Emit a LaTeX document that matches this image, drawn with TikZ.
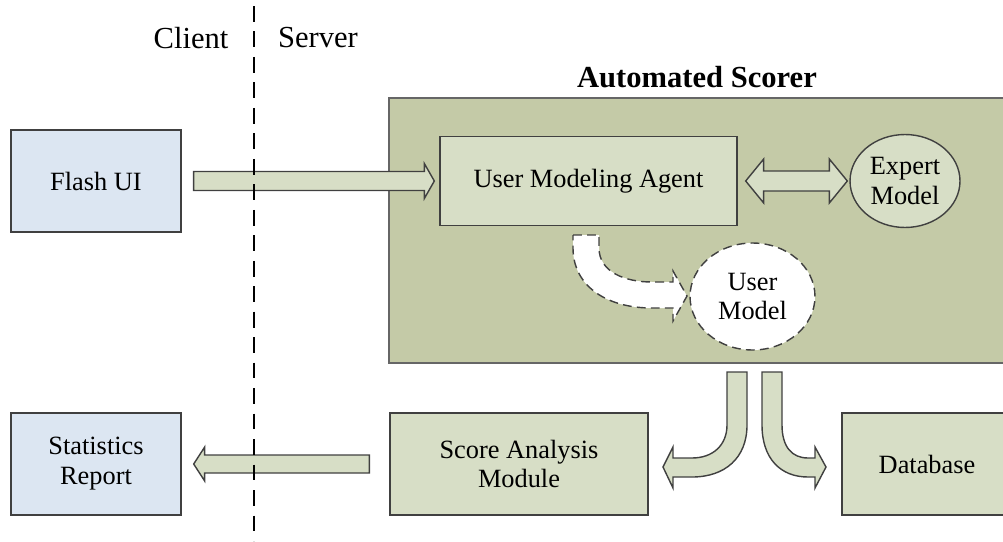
\documentclass[tikz,border=0pt]{standalone}
\usepackage{fontspec}
\setmainfont{Liberation Serif}
\usetikzlibrary{shapes.geometric,calc}
\definecolor{scorerfill}{HTML}{C4CAA7}
\definecolor{boxfill}{HTML}{D7DEC6}
\definecolor{clientfill}{HTML}{DCE6F2}
\definecolor{edgegray}{HTML}{404040}

\begin{document}
\begin{tikzpicture}[x=0.02cm, y=-0.02cm]
\tikzset{
  Box/.style = {draw=edgegray, line width=0.8pt, fill=boxfill, minimum height=2.04cm,
                inner sep=0pt, align=center, font=\fontsize{15}{17}\selectfont},
  ClientBox/.style = {Box, fill=clientfill, minimum width=3.4cm},
  Model/.style = {ellipse, draw=edgegray, line width=0.8pt, inner sep=0pt,
                  align=center, font=\fontsize{15}{17}\selectfont},
  BlockArrow/.style = {draw=edgegray, line width=0.8pt, fill=boxfill, line join=miter},
  Side/.style = {font=\fontsize{17.4}{20}\selectfont},
  Divider/.style = {line width=0.9pt, dash pattern=on 9pt off 5.5pt},
}
\useasboundingbox (0,0) rectangle (1003,541);

  % scorer frame
  \node[draw=gray!80!black, line width=1.2pt, fill=scorerfill, minimum width=12.46cm,
        minimum height=5.3cm, inner sep=0pt] (scorer) at (700.5,230.5) {};
  \node[font=\bfseries\fontsize{17.4}{20}\selectfont] (title) at (697,77) {Automated Scorer};

  \node[ClientBox] (flash) at (96,181) {Flash UI};
  \node[ClientBox] (stats) at (96,464) {Statistics\\Report};

  \node[Box, minimum width=5.94cm, minimum height=1.78cm] (uma) at (588.5,181) {User Modeling Agent};
  \node[Model, fill=boxfill, minimum width=2.2cm, minimum height=1.86cm] (expert) at (905,181) {Expert\\Model};
  \node[Model, fill=white, dash pattern=on 5pt off 3pt, minimum width=2.5cm,
        minimum height=2.14cm] (user) at (752.5,296.5) {User\\Model};

  \node[Box, minimum width=5.16cm] (score) at (519,464) {Score Analysis\\Module};
  \node[Box, minimum width=3.4cm] (db) at (927,464) {Database};

  % straight block arrows
  \draw[BlockArrow] ($(flash.east)+(12,-9.5)$) -- ($(uma.west)+(-15,-9.5)$)
    -- ($(uma.west)+(-15,-17.5)$) -- ($(uma.west)+(-5,0)$) -- ($(uma.west)+(-15,17.5)$)
    -- ($(uma.west)+(-15,9.5)$) -- ($(flash.east)+(12,9.5)$) -- cycle;

  \draw[BlockArrow] ($(uma.east)+(8,0)$) -- ($(uma.east)+(26,-22)$) -- ($(uma.east)+(26,-10)$)
    -- ($(expert.west)+(-20,-10)$) -- ($(expert.west)+(-20,-22)$) -- ($(expert.west)+(-2,0)$)
    -- ($(expert.west)+(-20,22)$) -- ($(expert.west)+(-20,10)$) -- ($(uma.east)+(26,10)$)
    -- ($(uma.east)+(26,22)$) -- cycle;

  \draw[BlockArrow] ($(score.west)+(-20,-9)$) -- ($(stats.east)+(23,-9)$)
    -- ($(stats.east)+(23,-17)$) -- ($(stats.east)+(12,0)$) -- ($(stats.east)+(23,17)$)
    -- ($(stats.east)+(23,9)$) -- ($(score.west)+(-20,9)$) -- cycle;

  % bent arrows
  \draw[BlockArrow, fill=white, dash pattern=on 5pt off 3pt] (573,235) -- (599,235) -- (599,248)
    .. controls (599,272) and (625,282) .. (652,282) -- (673,282) -- (673,271) -- (687,296)
    -- (673,321) -- (673,308) -- (652,308) .. controls (605,308) and (573,285) .. (573,248) -- cycle;

  \draw[BlockArrow] (727,372) -- (747,372) -- (747,425) .. controls (747,458) and (725,477) .. (692,477)
    -- (673,477) -- (673,488) -- (663,467) -- (673,447) -- (673,458) -- (692,458)
    .. controls (713,458) and (727,445) .. (727,425) -- cycle;

  \draw[BlockArrow] (762,372) -- (782,372) -- (782,425) .. controls (782,447) and (792,458) .. (808,458)
    -- (815,458) -- (815,447) -- (826,467) -- (815,488) -- (815,477) -- (808,477)
    .. controls (780,477) and (762,458) .. (762,425) -- cycle;

  % client / server split
  \coordinate (top) at (254,6);
  \coordinate (bottom) at (254,541);
  \draw[Divider] (top) -- (bottom);
  \node[Side] (client) at (191,38) {Client};
  \node[Side] (server) at (318,38) {Server};

\end{tikzpicture}
\end{document}
